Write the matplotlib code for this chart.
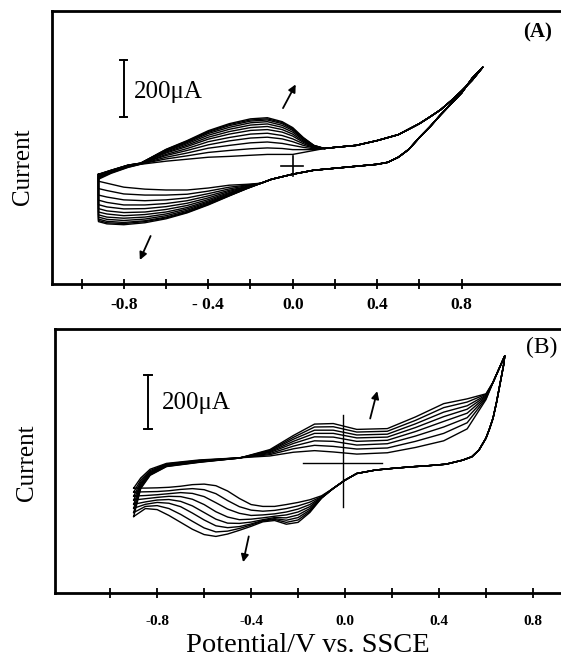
import matplotlib.pyplot as plt

# ---- panel A: cyclic voltammograms, potential in V, current in uA ----
# anodic sweep, part that grows from cycle to cycle
A_UP_V = [-0.92, -0.86, -0.78, -0.72, -0.60, -0.50, -0.40, -0.30, -0.20, -0.12, -0.05, 0.00, 0.05, 0.10]
A_UP_I = [
    [-46, -25, -4, 7, 18, 25, 32, 35, 39, 42, 42, 42, 49, 56],
    [-43, -23, -3, 8, 26, 37, 49, 56, 62, 65, 63, 59, 59, 59],
    [-40, -21, -1, 8, 32, 47, 64, 74, 83, 86, 81, 74, 67, 62],
    [-38, -20, 0, 9, 38, 56, 76, 90, 100, 103, 97, 87, 74, 65],
    [-36, -19, 1, 9, 42, 63, 87, 102, 114, 117, 109, 97, 80, 66],
    [-34, -18, 1, 10, 47, 70, 96, 114, 127, 130, 121, 107, 85, 68],
    [-32, -17, 2, 10, 50, 75, 103, 123, 137, 141, 130, 114, 89, 70],
    [-31, -16, 3, 10, 53, 80, 110, 131, 146, 150, 138, 121, 93, 71],
    [-30, -15, 3, 11, 55, 84, 116, 138, 154, 158, 145, 127, 96, 72],
    [-29, -15, 4, 11, 58, 87, 120, 144, 160, 164, 151, 131, 99, 73],
    [-29, -14, 4, 11, 59, 89, 123, 148, 164, 168, 155, 134, 100, 74],
    [-28, -14, 4, 11, 60, 91, 126, 151, 168, 172, 158, 137, 102, 74],
]
# common part: end of anodic sweep, switching at +0.9 V, start of cathodic sweep
A_TAIL_V = [0.15, 0.20, 0.30, 0.40, 0.50, 0.60, 0.65, 0.70, 0.75, 0.80, 0.85, 0.90,
            0.85, 0.80, 0.75, 0.70, 0.65, 0.60, 0.55, 0.50, 0.45, 0.40, 0.30, 0.20, 0.10, 0.00, -0.10]
A_TAIL_I = [63, 67, 74, 91, 112, 151, 175, 200, 232, 267, 305, 351,
            312, 260, 221, 182, 140, 102, 60, 32, 14, 7, 0, -7, -14, -28, -46]
# cathodic sweep, growing part
A_DN_V = [-0.15, -0.22, -0.30, -0.40, -0.50, -0.60, -0.70, -0.80, -0.88, -0.92]
A_DN_I = [
    [-60, -64, -67, -77, -84, -84, -81, -74, -60, -53],
    [-60, -67, -74, -88, -99, -102, -102, -98, -86, -79],
    [-60, -69, -80, -97, -112, -119, -122, -119, -109, -102],
    [-60, -72, -85, -105, -122, -132, -137, -137, -128, -120],
    [-60, -73, -89, -112, -131, -143, -150, -151, -144, -136],
    [-60, -75, -93, -118, -139, -153, -162, -164, -158, -150],
    [-60, -76, -96, -123, -146, -162, -171, -175, -169, -162],
    [-60, -77, -99, -127, -151, -169, -180, -184, -180, -172],
    [-60, -78, -101, -130, -156, -175, -187, -192, -188, -180],
    [-60, -79, -103, -133, -160, -180, -193, -199, -195, -187],
    [-60, -80, -104, -135, -163, -183, -196, -203, -200, -192],
    [-60, -80, -105, -137, -165, -186, -200, -207, -204, -196],
]

# ---- panel B ----
B_UP_V = [-0.90, -0.87, -0.83, -0.76, -0.62, -0.45, -0.32, -0.22, -0.13, -0.05, 0.05, 0.18, 0.30, 0.42, 0.52, 0.60]
B_UP_I = [
    [-93, -55, -22, 0, 13, 21, 28, 42, 48, 43, 35, 40, 60, 85, 130, 240],
    [-108, -63, -27, -2, 11, 21, 33, 55, 68, 64, 54, 58, 83, 113, 153, 244],
    [-123, -70, -31, -4, 10, 21, 37, 65, 85, 83, 69, 74, 103, 137, 172, 248],
    [-138, -76, -34, -6, 8, 21, 41, 75, 100, 99, 83, 87, 120, 158, 189, 251],
    [-154, -81, -37, -8, 7, 20, 44, 83, 113, 113, 96, 99, 135, 176, 204, 254],
    [-169, -86, -40, -9, 6, 20, 47, 91, 125, 125, 107, 110, 149, 193, 217, 257],
    [-185, -91, -43, -11, 5, 20, 49, 98, 137, 138, 118, 121, 162, 210, 231, 260],
    [-200, -95, -45, -12, 4, 20, 52, 105, 148, 150, 128, 131, 175, 225, 243, 262],
]
B_TAIL_V = [0.63, 0.65, 0.67, 0.68, 0.675, 0.66, 0.645, 0.63, 0.615, 0.60, 0.57, 0.54, 0.50,
            0.43, 0.35, 0.28, 0.20, 0.13, 0.05, 0.00]
B_TAIL_I = [305, 345, 385, 405, 370, 300, 230, 170, 130, 95, 50, 25, 12,
            -3, -9, -13, -19, -25, -38, -63]
B_DN_V = [-0.05, -0.10, -0.15, -0.20, -0.25, -0.30, -0.35, -0.40, -0.45,
          -0.50, -0.55, -0.60, -0.65, -0.70, -0.75, -0.80, -0.85, -0.90]
B_DN_I = [
    [-94, -122, -137, -147, -155, -162, -162, -155, -132, -104, -84, -78, -80, -86, -90, -92, -93, -93],
    [-94, -125, -146, -160, -170, -177, -180, -176, -163, -140, -114, -99, -95, -98, -103, -106, -107, -108],
    [-94, -127, -155, -172, -183, -190, -194, -196, -188, -172, -148, -125, -113, -110, -114, -118, -121, -123],
    [-94, -128, -163, -183, -194, -199, -205, -210, -212, -202, -182, -155, -135, -125, -124, -128, -133, -138],
    [-94, -129, -170, -194, -205, -204, -212, -221, -226, -225, -210, -185, -160, -143, -136, -138, -145, -154],
    [-94, -130, -176, -204, -214, -208, -215, -228, -238, -242, -235, -213, -187, -163, -150, -147, -154, -169],
    [-94, -130, -181, -213, -222, -211, -217, -232, -245, -255, -258, -243, -218, -192, -170, -159, -162, -185],
    [-94, -131, -185, -222, -229, -215, -220, -237, -252, -266, -275, -268, -248, -222, -196, -174, -170, -200],
]

XTICKS = [-0.8, -0.4, 0.0, 0.4, 0.8]
XMINOR = [-1.0, -0.6, -0.2, 0.2, 0.6]
A_XLABELS = ['-0.8', '- 0.4', '0.0', '0.4', '0.8']
B_XLABELS = ['-0.8', '-0.4', '0.0', '0.4', '0.8']

SERIF = 'Liberation Serif'
W, H = 561, 658

fig = plt.figure(figsize=(W / 100, H / 100), dpi=100)
fig.patch.set_facecolor('white')


def box(l, t, r, b):
    # axes rectangle from pixel edges
    return [l / W, 1 - b / H, (r - l) / W, (b - t) / H]


def frame(ax, xlim, ylim, labels, size, pad):
    ax.set_xlim(*xlim)
    ax.set_ylim(*ylim)
    ax.set_yticks([])
    ax.set_xticks(XTICKS)
    ax.set_xticklabels(labels, fontsize=size, fontweight='bold', family=SERIF)
    ax.set_xticks(XMINOR, minor=True)
    ax.tick_params(axis='x', which='both', direction='inout', length=7, width=1.3, pad=pad)
    for s in ax.spines.values():
        s.set_linewidth(2.0)


def arrow(ax, start, end):
    ax.annotate('', xy=end, xytext=start,
                arrowprops=dict(arrowstyle='-|>', color='k', lw=1.3, mutation_scale=11,
                                shrinkA=0, shrinkB=0))


def scalebar(ax, v, i0, i1, tx, ty):
    ax.plot([v, v], [i0, i1], color='k', lw=1.4)
    ax.plot([v - 0.017, v + 0.017], [i0, i0], color='k', lw=1.4)
    ax.plot([v - 0.017, v + 0.017], [i1, i1], color='k', lw=1.4)
    ax.text(tx, ty, '200\u03bcA', fontsize=18, family=SERIF, va='center', ha='left')


# ---- (A) ----
axA = fig.add_axes(box(52, 11, 563, 284))
for up, dn in zip(A_UP_I, A_DN_I):
    v = A_UP_V + A_TAIL_V + A_DN_V + [A_UP_V[0]]
    i = up + A_TAIL_I + dn + [up[0]]
    axA.plot(v, i, color='k', lw=1.0)
frame(axA, (-1.14, 1.28), (-417, 550), A_XLABELS, 12.5, 6)
axA.plot([-0.054, 0.047], [0, 0], color='k', lw=1.2)
axA.plot([0.0, 0.0], [-35, 35], color='k', lw=1.2)
scalebar(axA, -0.80, 176, 376, -0.75, 262)
arrow(axA, (-0.046, 206), (0.014, 290))
arrow(axA, (-0.673, -247), (-0.724, -332))
axA.text(0.951, 0.92, '(A)', transform=axA.transAxes, fontsize=15, fontweight='bold',
         family=SERIF, ha='center', va='center')

# ---- (B) ----
axB = fig.add_axes(box(55, 329, 563, 593))
for up, dn in zip(B_UP_I, B_DN_I):
    v = B_UP_V + B_TAIL_V + B_DN_V
    i = up + B_TAIL_I + dn
    axB.plot(v, i, color='k', lw=1.0)
frame(axB, (-1.235, 0.928), (-488, 506), B_XLABELS, 11, 12)
axB.plot([-0.178, 0.157], [0, 0], color='k', lw=1.0)
axB.plot([-0.01, -0.01], [-163, 181], color='k', lw=1.0)
scalebar(axB, -0.838, 131, 331, -0.78, 228)
arrow(axB, (0.107, 169), (0.137, 272))
arrow(axB, (-0.41, -275), (-0.434, -372))
axB.text(0.958, 0.93, '(B)', transform=axB.transAxes, fontsize=17,
         family=SERIF, ha='center', va='center')

# axis titles
fig.text(23 / W, 1 - 167 / H, 'Current', rotation=90, fontsize=18, family=SERIF,
         ha='center', va='center')
fig.text(27 / W, 1 - 463 / H, 'Current', rotation=90, fontsize=18, family=SERIF,
         ha='center', va='center')
fig.text(308 / W, 1 - 646 / H, 'Potential/V vs. SSCE', fontsize=20.5, family=SERIF,
         ha='center', va='center')

fig.savefig('out.png', dpi=100)
